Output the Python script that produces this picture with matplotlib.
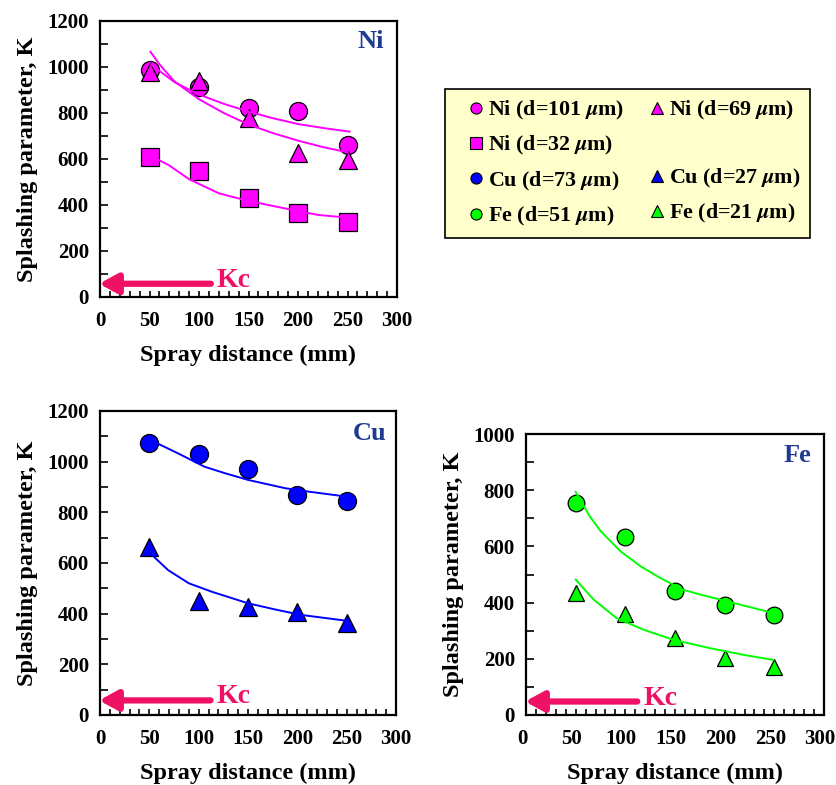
import matplotlib
matplotlib.use("Agg")
import matplotlib.pyplot as plt
from matplotlib.lines import Line2D
from matplotlib.ticker import MultipleLocator
from matplotlib.transforms import ScaledTranslation

plt.rcParams['font.family'] = ['Liberation Serif', 'DejaVu Serif']
plt.rcParams['font.weight'] = 'bold'
plt.rcParams['mathtext.fontset'] = 'stix'

# ---------------- data ----------------
distance = [50, 100, 150, 200, 250]

ni101 = [985, 912, 820, 810, 659]
ni69 = [980, 940, 778, 625, 596]
ni32 = [610, 548, 429, 367, 326]
cu73 = [1075, 1030, 970, 867, 844]
cu27 = [664, 451, 428, 408, 362]
fe51 = [753, 633, 443, 390, 356]
fe21 = [435, 361, 274, 202, 172]

# fitted trend lines
ni101_fit_x = [52, 75, 100, 125, 150, 175, 200, 225, 252]
ni101_fit_y = [1009, 935, 880, 840, 806, 777, 752, 735, 719]
ni69_fit_x = [51, 60, 75, 100, 125, 150, 175, 200, 225, 250]
ni69_fit_y = [1066, 1012, 938, 860, 800, 750, 712, 680, 652, 629]
ni32_fit_x = [52, 70, 90, 120, 145, 170, 195, 220, 250]
ni32_fit_y = [612, 572, 512, 451, 423, 400, 378, 357, 345]
cu73_fit_x = [55, 79, 106, 127, 150, 188, 211, 250]
cu73_fit_y = [1078, 1033, 980, 954, 928, 895, 882, 862]
cu27_fit_x = [51, 69, 90, 113, 150, 177, 204, 250]
cu27_fit_y = [638, 572, 520, 487, 441, 417, 395, 372]
fe51_fit_x = [50, 64, 75, 95, 115, 135, 158, 175, 202, 242, 250]
fe51_fit_y = [794, 708, 655, 583, 530, 488, 446, 429, 405, 369, 362]
fe21_fit_x = [50, 68, 91, 118, 148, 185, 219, 249]
fe21_fit_y = [482, 411, 345, 304, 268, 238, 214, 196]

legend_labels = [r'Ni (d=101 $\mu$m)', r'Ni (d=32 $\mu$m)', r'Cu (d=73 $\mu$m)',
                 r'Fe (d=51 $\mu$m)', r'Ni (d=69 $\mu$m)', '', r'Cu (d=27 $\mu$m)',
                 r'Fe (d=21 $\mu$m)']

MAG = '#FF00FF'
BLUE = '#0000FF'
GREEN = '#00FF00'
KC = '#EE1166'
NAVY = '#1F3A93'

W, H = 836, 785
fig = plt.figure(figsize=(W / 100, H / 100), dpi=100)


def make_ax(l, t, r, b, ymax, name, xshift=0):
    ax = fig.add_axes([l / W, 1 - b / H, (r - l) / W, (b - t) / H])
    ax.set_xlim(0, 300)
    ax.set_ylim(0, ymax)
    ax.xaxis.set_major_locator(MultipleLocator(50))
    ax.xaxis.set_minor_locator(MultipleLocator(10))
    ax.yaxis.set_major_locator(MultipleLocator(200))
    ax.yaxis.set_minor_locator(MultipleLocator(100))
    ax.tick_params(axis='both', which='both', direction='in', top=False, right=False,
                   labelsize=15, width=1.2)
    ax.tick_params(axis='y', which='both', length=6, pad=8)
    ax.tick_params(axis='x', which='both', length=4.5, pad=10)
    for lab in ax.get_xticklabels() + ax.get_yticklabels():
        lab.set_fontweight('bold')
    if xshift:
        off = ScaledTranslation(xshift / 100, 0, fig.dpi_scale_trans)
        for lab in ax.get_xticklabels():
            lab.set_transform(lab.get_transform() + off)
    for s in ax.spines.values():
        s.set_linewidth(1.6)
    ax.set_xlabel('Spray distance (mm)', fontsize=17.5, fontweight='bold', labelpad=10)
    ax.set_ylabel('Splashing parameter, K', fontsize=17.5, fontweight='bold', labelpad=7)
    ax.text(0.91, 0.925, name, transform=ax.transAxes, ha='center', va='center',
            color=NAVY, fontsize=19, fontweight='bold')
    ax.annotate('', xy=(-1, 0.048), xytext=(112, 0.048),
                xycoords=('data', 'axes fraction'), textcoords=('data', 'axes fraction'),
                arrowprops=dict(arrowstyle='-|>,head_length=0.55,head_width=0.3',
                                color=KC, lw=4.5, mutation_scale=20, shrinkA=0, shrinkB=0),
                annotation_clip=False)
    ax.text(118, 0.06, 'Kc', transform=ax.get_xaxis_transform(), color=KC,
            fontsize=20, fontweight='bold', ha='left', va='center')
    return ax


mk = dict(markeredgecolor='black', markeredgewidth=0.9, linestyle='none')

# Ni
ax1 = make_ax(100, 21, 397, 297, 1200, 'Ni')
ax1.plot(distance, ni101, marker='o', markersize=13, color=MAG, **mk, zorder=3)
ax1.plot(distance, ni69, marker='^', markersize=13, color=MAG, **mk, zorder=4)
ax1.plot(distance, ni32, marker='s', markersize=13, color=MAG, **mk, zorder=3)
ax1.plot(ni101_fit_x, ni101_fit_y, color=MAG, lw=1.4, zorder=5)
ax1.plot(ni69_fit_x, ni69_fit_y, color=MAG, lw=1.4, zorder=5)
ax1.plot(ni32_fit_x, ni32_fit_y, color=MAG, lw=1.4, zorder=5)

# Cu
ax2 = make_ax(100, 411, 396, 715, 1200, 'Cu')
ax2.plot(distance, cu73, marker='o', markersize=13, color=BLUE, **mk, zorder=3)
ax2.plot(distance, cu27, marker='^', markersize=13, color=BLUE, **mk, zorder=3)
ax2.plot(cu73_fit_x, cu73_fit_y, color=BLUE, lw=1.4, zorder=5)
ax2.plot(cu27_fit_x, cu27_fit_y, color=BLUE, lw=1.4, zorder=5)

# Fe
ax3 = make_ax(526, 434, 824, 715, 1000, 'Fe', xshift=-4)
ax3.plot(distance, fe51, marker='o', markersize=12, color=GREEN, **mk, zorder=3)
ax3.plot(distance, fe21, marker='^', markersize=12, color=GREEN, **mk, zorder=3)
ax3.plot(fe51_fit_x, fe51_fit_y, color=GREEN, lw=1.4, zorder=5)
ax3.plot(fe21_fit_x, fe21_fit_y, color=GREEN, lw=1.4, zorder=5)

# Legend
lk = dict(linestyle='none', markeredgecolor='black', markeredgewidth=0.8, markersize=8)
handles = [
    Line2D([], [], marker='o', color=MAG, **lk),
    Line2D([], [], marker='s', color=MAG, **lk),
    Line2D([], [], marker='o', color=BLUE, **lk),
    Line2D([], [], marker='o', color=GREEN, **lk),
    Line2D([], [], marker='^', color=MAG, **lk),
    Line2D([], [], linestyle='none'),
    Line2D([], [], marker='^', color=BLUE, **lk),
    Line2D([], [], marker='^', color=GREEN, **lk),
]
leg = fig.legend(handles, legend_labels, ncol=2, loc='upper left',
                 bbox_to_anchor=(445 / W, 1 - 89 / H), borderaxespad=0, fancybox=False,
                 frameon=True, facecolor='#FFFFCC', edgecolor='black',
                 prop={'family': 'Liberation Serif', 'weight': 'bold', 'size': 15.8},
                 handlelength=1.9, handletextpad=-0.4, columnspacing=0.55,
                 labelspacing=0.56, borderpad=0.45)
leg.get_frame().set_linewidth(1.2)
leg.get_frame().set_alpha(1)

fig.savefig('out.png', dpi=100)
